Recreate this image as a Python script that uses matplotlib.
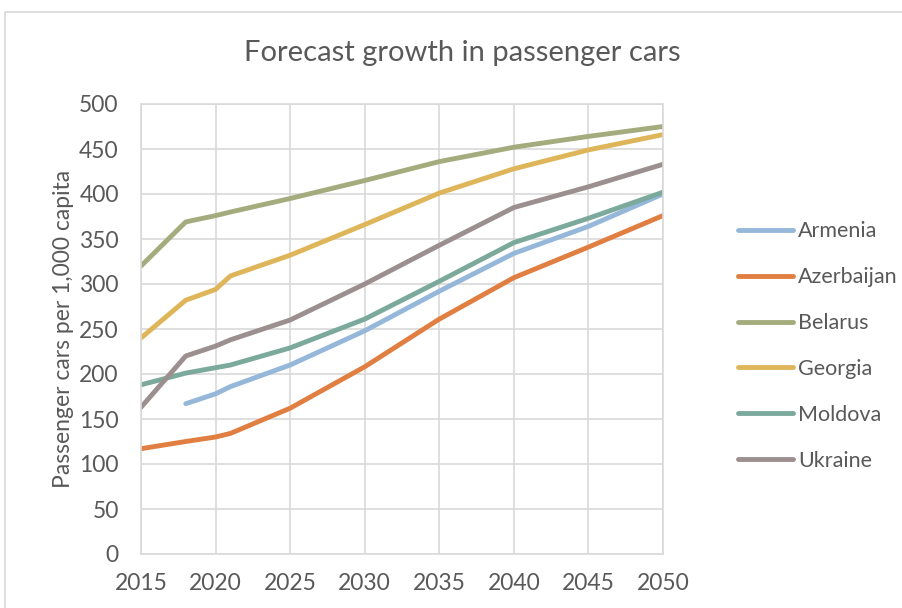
import numpy as np
import matplotlib.pyplot as plt
from matplotlib.patches import Rectangle

plt.rcParams['font.family'] = ['Lato', 'DejaVu Sans']

years = [2015, 2018, 2020, 2021, 2025, 2030, 2035, 2040, 2045, 2050]
armenia = [np.nan, 167, 178, 186, 210, 248, 292, 334, 364, 400]
azerbaijan = [117, 125, 130, 134, 162, 208, 261, 307, 341, 376]
belarus = [320, 369, 376, 380, 395, 415, 436, 452, 464, 475]
georgia = [240, 282, 294, 309, 332, 366, 401, 428, 449, 466]
moldova = [188, 201, 207, 210, 229, 261, 303, 346, 373, 402]
ukraine = [163, 220, 231, 238, 260, 300, 343, 385, 408, 433]

countries = ["Armenia", "Azerbaijan", "Belarus", "Georgia", "Moldova", "Ukraine"]
series = [armenia, azerbaijan, belarus, georgia, moldova, ukraine]
colors = ["#95B7D9", "#E07F41", "#A4AC7E", "#DFB55A", "#7BA99B", "#9B8F8F"]

text_col = "#595959"
grid_col = "#D9D9D9"

fig = plt.figure(figsize=(9.02, 6.08), dpi=100)
ax = fig.add_axes([141 / 902, 1 - 554 / 608, 522 / 902, 450 / 608])

# outer chart frame
fig.add_artist(Rectangle((5 / 902, -0.1), 1.2, 1.1 - 12 / 608, transform=fig.transFigure,
                         fill=False, edgecolor=grid_col, linewidth=1.2))

for name, vals, c in zip(countries, series, colors):
    ax.plot(years, vals, color=c, linewidth=3.5, solid_capstyle='round',
            solid_joinstyle='round', label=name)

ax.set_xlim(2015, 2050)
ax.set_ylim(0, 500)
ax.set_xticks(range(2015, 2051, 5))
ax.set_yticks(range(0, 501, 50))
ax.grid(True, color=grid_col, linewidth=1.2)
ax.set_axisbelow(True)
for s in ax.spines.values():
    s.set_color(grid_col)
    s.set_linewidth(1.2)
ax.tick_params(length=0, labelsize=16.5, colors=text_col)
ax.tick_params(axis='y', pad=16)
ax.tick_params(axis='x', pad=14)

ax.set_ylabel("Passenger cars per 1,000 capita", fontsize=16.5, color=text_col, labelpad=4)
fig.text(462 / 902, 1 - 53 / 608, "Forecast growth in passenger cars",
         ha='center', va='center', fontsize=21, color=text_col)

leg = ax.legend(loc='center left', bbox_to_anchor=(727 / 902, 1 - 346 / 608),
                bbox_transform=fig.transFigure, frameon=False, fontsize=15.5,
                borderpad=0, handlelength=2.55, handletextpad=0.25, labelspacing=1.2)
for t in leg.get_texts():
    t.set_color(text_col)

fig.savefig("out.png", dpi=100)
